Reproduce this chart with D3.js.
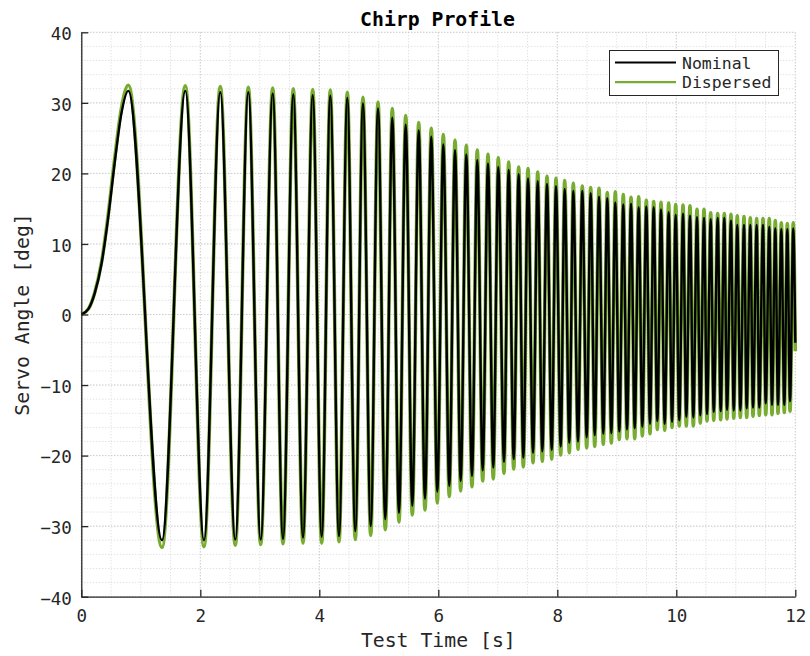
<!DOCTYPE html>
<html>
<head>
<meta charset="utf-8">
<script src="https://cdn.jsdelivr.net/npm/d3@7"></script>
<style>
  body { margin: 0; background: #fff; }
  text { font-family: "DejaVu Sans Mono", monospace; fill: #262626; }
</style>
</head>
<body>
<svg id="chart" width="810" height="656"></svg>
<script>
// axis ticks
var xTicks = [0, 2, 4, 6, 8, 10, 12];
var yTicks = [-40, -30, -20, -10, 0, 10, 20, 30, 40];

// start of the sweep (first rising lobe)
var rampTimes = [0, 0.12, 0.225, 0.34, 0.45, 0.56, 0.67];
var nominalRamp = [0, 0.8, 3.0, 7.2, 13.6, 21.4, 28.3];
var dispersedRamp = [0, 0.8, 3.1, 7.4, 14.0, 22.0, 29.0];

// peaks of the chirp [s]
var peakTimes = [0.790, 1.748, 2.336, 2.807, 3.217, 3.563, 3.889, 4.185, 4.471, 4.734, 4.987,
  5.227, 5.452, 5.671, 5.882, 6.084, 6.281, 6.471, 6.655, 6.835, 7.008, 7.183, 7.351, 7.508,
  7.671, 7.827, 7.978, 8.124, 8.269, 8.420, 8.561, 8.701, 8.840, 8.975, 9.109, 9.239, 9.368,
  9.496, 9.620, 9.743, 9.872, 9.990, 10.113, 10.230, 10.348, 10.466, 10.578, 10.696, 10.807,
  10.919, 11.025, 11.138, 11.244, 11.351, 11.457, 11.563, 11.664, 11.765, 11.866, 11.966];
var nominalPeaks = [31.7, 31.7, 31.5, 31.5, 31.3, 31.2, 31.1, 31.0, 30.7, 29.9, 29.2,
  27.9, 26.9, 26.1, 25.2, 24.1, 23.3, 22.7, 21.9, 21.4, 20.9, 20.5, 19.9, 19.3, 18.9, 18.5,
  18.2, 17.8, 17.5, 17.5, 17.2, 16.7, 16.5, 15.9, 15.6, 15.7, 15.2, 15.3, 15.2, 14.9, 14.5,
  14.1, 14.3, 14.0, 13.8, 13.7, 13.5, 13.7, 13.7, 13.3, 12.7, 12.7, 12.7, 12.7, 12.7, 12.4,
  12.2, 12.1, 12.1, 12.2];
var dispersedPeaks = [32.5, 32.4, 32.3, 32.2, 32.1, 32.0, 31.9, 31.8, 31.5, 30.8, 30.1,
  29.2, 28.2, 27.2, 26.4, 25.5, 24.7, 24.0, 23.3, 22.7, 22.2, 21.6, 20.9, 20.7, 20.2, 19.6,
  19.3, 19.0, 18.6, 18.2, 18.0, 17.9, 17.3, 17.4, 17.0, 16.6, 16.7, 16.2, 16.0, 15.9, 15.8,
  15.6, 15.5, 15.4, 14.9, 14.9, 14.4, 14.3, 14.3, 14.2, 14.0, 13.9, 13.7, 13.6, 13.6, 13.6,
  13.3, 13.0, 12.9, 13.0];

// troughs of the chirp [s]
var troughTimes = [1.356, 2.062, 2.588, 3.015, 3.390, 3.726, 4.040, 4.331, 4.605, 4.864, 5.109,
  5.339, 5.563, 5.776, 5.983, 6.185, 6.376, 6.566, 6.746, 6.924, 7.104, 7.267, 7.429, 7.592,
  7.748, 7.906, 8.057, 8.202, 8.348, 8.494, 8.629, 8.773, 8.908, 9.042, 9.171, 9.301, 9.429,
  9.558, 9.681, 9.805, 9.928, 10.050, 10.168, 10.286, 10.403, 10.516, 10.629, 10.746, 10.852,
  10.965, 11.076, 11.183, 11.289, 11.395, 11.503, 11.608, 11.709, 11.815, 11.911];
var nominalTroughs = [-32.0, -32.0, -31.9, -31.9, -31.8, -31.6, -31.5, -31.4, -30.7, -30.0, -29.0,
  -28.1, -27.1, -26.1, -25.1, -24.3, -23.6, -22.9, -22.1, -21.7, -20.9, -20.5, -20.3, -19.6,
  -19.4, -19.2, -18.7, -18.2, -18.0, -17.4, -17.1, -16.9, -16.8, -16.6, -16.3, -16.1, -15.9,
  -15.5, -15.1, -15.5, -15.2, -15.0, -14.5, -14.6, -14.3, -14.1, -13.8, -13.7, -13.5, -13.6,
  -13.6, -13.3, -13.2, -13.2, -12.6, -12.8, -12.8, -12.8, -12.3];
var dispersedTroughs = [-33.0, -32.9, -32.7, -32.6, -32.5, -32.4, -32.4, -32.2, -31.9, -31.3, -30.5,
  -29.4, -28.4, -27.7, -26.7, -25.8, -25.0, -24.4, -23.6, -23.3, -22.5, -21.9, -21.6, -21.0,
  -20.8, -20.5, -19.9, -19.6, -19.1, -18.9, -18.7, -18.4, -18.2, -17.7, -17.6, -17.6, -17.2,
  -16.9, -16.3, -16.4, -16.0, -15.8, -15.8, -15.8, -15.4, -15.1, -15.0, -14.9, -14.8, -14.7,
  -14.6, -14.6, -14.4, -14.3, -14.2, -14.2, -14.0, -13.9, -13.7];

// value where the test ends
var endTimes = [12];
var nominalEnd = [-4.0];
var dispersedEnd = [-5.2];

var svg = d3.select("#chart");
var plotLeft = 81.3, plotRight = 795.3, plotTop = 32.3, plotBottom = 596.7;
var axisColor = "#262626";

var x = d3.scaleLinear().domain([0, 12]).range([plotLeft, plotRight]);
var y = d3.scaleLinear().domain([-40, 40]).range([plotBottom, plotTop]);

// join the arrays into one time ordered series
function buildSeries(ramp, peaks, troughs, end) {
    var pts = [];
    rampTimes.forEach(function(t, i) { pts.push([t, ramp[i]]); });
    peakTimes.forEach(function(t, i) { pts.push([t, peaks[i]]); });
    troughTimes.forEach(function(t, i) { pts.push([t, troughs[i]]); });
    endTimes.forEach(function(t, i) { pts.push([t, end[i]]); });
    return pts.sort(function(a, b) { return a[0] - b[0]; });
}
var nominal = buildSeries(nominalRamp, nominalPeaks, nominalTroughs, nominalEnd);
var dispersed = buildSeries(dispersedRamp, dispersedPeaks, dispersedTroughs, dispersedEnd);

//// grid (minor then major), dotted like the original
var grid = svg.append("g");
grid.selectAll(".xminor").data(x.ticks(24)).enter().append("line")
    .attr("x1", function(d) { return x(d); }).attr("x2", function(d) { return x(d); })
    .attr("y1", plotTop).attr("y2", plotBottom)
    .attr("stroke", "#d6d6d6").attr("stroke-dasharray", "1,2");
grid.selectAll(".yminor").data(y.ticks(40)).enter().append("line")
    .attr("x1", plotLeft).attr("x2", plotRight)
    .attr("y1", function(d) { return y(d); }).attr("y2", function(d) { return y(d); })
    .attr("stroke", "#d6d6d6").attr("stroke-dasharray", "1,2");
grid.selectAll(".xmajor").data(xTicks).enter().append("line")
    .attr("x1", function(d) { return x(d); }).attr("x2", function(d) { return x(d); })
    .attr("y1", plotTop).attr("y2", plotBottom)
    .attr("stroke", "#c4c4c4").attr("stroke-dasharray", "1,2");
grid.selectAll(".ymajor").data(yTicks).enter().append("line")
    .attr("x1", plotLeft).attr("x2", plotRight)
    .attr("y1", function(d) { return y(d); }).attr("y2", function(d) { return y(d); })
    .attr("stroke", "#c4c4c4").attr("stroke-dasharray", "1,2");

//// lines
var line = d3.line()
    .x(function(d) { return x(d[0]); })
    .y(function(d) { return y(d[1]); })
    .curve(d3.curveMonotoneX);

svg.append("path").datum(dispersed)
    .attr("d", line)
    .attr("fill", "none")
    .attr("stroke", "#77ac30")
    .attr("stroke-width", 3.6)
    .attr("stroke-linejoin", "round");

svg.append("path").datum(nominal)
    .attr("d", line)
    .attr("fill", "none")
    .attr("stroke", "#000")
    .attr("stroke-width", 2.4)
    .attr("stroke-linejoin", "round");

//// axes, ticks point inwards
var xAxis = svg.append("g")
    .attr("transform", "translate(0," + plotBottom + ")")
    .call(d3.axisBottom(x).tickValues(xTicks).tickSizeInner(-7).tickSizeOuter(0).tickPadding(12.9));
var yAxis = svg.append("g")
    .attr("transform", "translate(" + plotLeft + ",0)")
    .call(d3.axisLeft(y).tickValues(yTicks).tickSizeInner(-7).tickSizeOuter(0).tickPadding(9.5));

[xAxis, yAxis].forEach(function(ax) {
    ax.select(".domain").attr("stroke", axisColor).attr("stroke-width", 1.3);
    ax.selectAll(".tick line").attr("stroke", axisColor).attr("stroke-width", 1.3);
    ax.selectAll(".tick text")
        .attr("font-family", "DejaVu Sans Mono")
        .attr("font-size", 17.5)
        .attr("fill", axisColor);
});
yAxis.selectAll(".tick text").attr("dy", "0.42em");

//// titles
svg.append("text")
    .attr("x", 437.5).attr("y", 26)
    .attr("text-anchor", "middle")
    .attr("font-size", 19.8).attr("font-weight", "bold")
    .style("fill", "#000")
    .text("Chirp Profile");

svg.append("text")
    .attr("x", (plotLeft + plotRight) / 2).attr("y", 646.5)
    .attr("text-anchor", "middle")
    .attr("font-size", 19.8)
    .text("Test Time [s]");

svg.append("text")
    .attr("transform", "translate(28.5," + ((plotTop + plotBottom) / 2) + ") rotate(-90)")
    .attr("text-anchor", "middle")
    .attr("font-size", 19.8)
    .text("Servo Angle [deg]");

//// legend
var legend = svg.append("g");
legend.append("rect")
    .attr("x", 609.5).attr("y", 50.5)
    .attr("width", 169).attr("height", 45)
    .attr("fill", "#fff").attr("stroke", axisColor).attr("stroke-width", 1);

var legendItems = [
    {name: "Nominal", color: "#000", width: 2.2},
    {name: "Dispersed", color: "#77ac30", width: 2.2}
];
legendItems.forEach(function(item, i) {
    var cy = 62.5 + i * 19.7;
    legend.append("line")
        .attr("x1", 615).attr("x2", 676)
        .attr("y1", cy).attr("y2", cy)
        .attr("stroke", item.color).attr("stroke-width", item.width);
    legend.append("text")
        .attr("x", 682).attr("y", cy + 6)
        .attr("font-size", 16.5)
        .text(item.name);
});
</script>
</body>
</html>
